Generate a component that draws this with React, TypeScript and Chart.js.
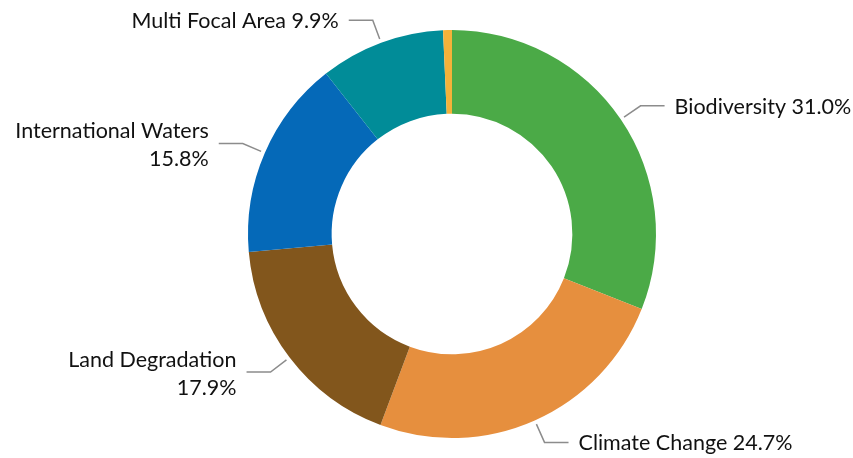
import { useEffect, useRef } from "react";
import { Chart, registerables } from "chart.js";

Chart.register(...registerables);

const categories = [
  "Biodiversity",
  "Climate Change",
  "Land Degradation",
  "International Waters",
  "Multi Focal Area",
  "",
];
const shares = [31.0, 24.7, 17.9, 15.8, 9.9, 0.7];
const sliceColors = ["#4BAA47", "#E68F3E", "#82561C", "#0569B8", "#018C98", "#F3B23A"];

const FONT = "21.5px Lato, 'Open Sans', sans-serif";

const leaderPlugin = {
  id: "leaderLabels",
  afterDatasetsDraw(chart: any) {
    const ctx = chart.ctx as CanvasRenderingContext2D;
    const meta = chart.getDatasetMeta(0);
    ctx.save();
    ctx.font = FONT;
    meta.data.forEach((arc: any, i: number) => {
      const name = categories[i];
      if (!name) return;
      const pct = shares[i].toFixed(1) + "%";
      const { x, y, startAngle, endAngle, outerRadius } = arc.getProps(
        ["x", "y", "startAngle", "endAngle", "outerRadius"],
        true
      );
      const mid = (startAngle + endAngle) / 2;
      const cos = Math.cos(mid);
      const sin = Math.sin(mid);
      const r1 = outerRadius + 4;
      const r2 = outerRadius + 24;
      const ax = x + cos * r1;
      const ay = y + sin * r1;
      const ex = x + cos * r2;
      const ey = y + sin * r2;
      const right = cos >= 0;
      const hx = ex + (right ? 24 : -24);
      ctx.strokeStyle = "#8C8C8C";
      ctx.lineWidth = 1.5;
      ctx.beginPath();
      ctx.moveTo(ax, ay);
      ctx.lineTo(ex, ey);
      ctx.lineTo(hx, ey);
      ctx.stroke();

      const tx = hx + (right ? 10 : -10);
      ctx.fillStyle = "#111111";
      ctx.textBaseline = "middle";
      ctx.textAlign = right ? "left" : "right";
      const single = name + " " + pct;
      const w = ctx.measureText(single).width;
      const fits = right ? tx + w <= chart.width + 4 : tx - w >= 30;
      if (fits) {
        ctx.fillText(single, tx, ey + 1);
      } else {
        const lh = 28;
        ctx.fillText(name, tx, ey + 2 - lh / 2);
        ctx.fillText(pct, tx, ey + 2 + lh / 2);
      }
    });
    ctx.restore();
  },
};

export default function App() {
  const ref = useRef<HTMLCanvasElement | null>(null);
  useEffect(() => {
    document.body.style.margin = "0";
    const canvas = ref.current;
    if (!canvas) return;
    const chart = new Chart(canvas, {
      type: "doughnut",
      data: {
        labels: categories,
        datasets: [
          {
            data: shares,
            backgroundColor: sliceColors,
            borderWidth: 0,
            hoverOffset: 0,
          },
        ],
      },
      options: {
        animation: false,
        responsive: false,
        cutout: "59%",
        events: [],
        layout: { padding: { left: 248, right: 197, top: 30, bottom: 20 } },
        plugins: {
          legend: { display: false },
          tooltip: { enabled: false },
        },
      },
      plugins: [leaderPlugin],
    });
    return () => chart.destroy();
  }, []);
  return (
    <div style={{ width: 853, height: 458 }}>
      <canvas ref={ref} width={853} height={458} style={{ display: "block" }} />
    </div>
  );
}
